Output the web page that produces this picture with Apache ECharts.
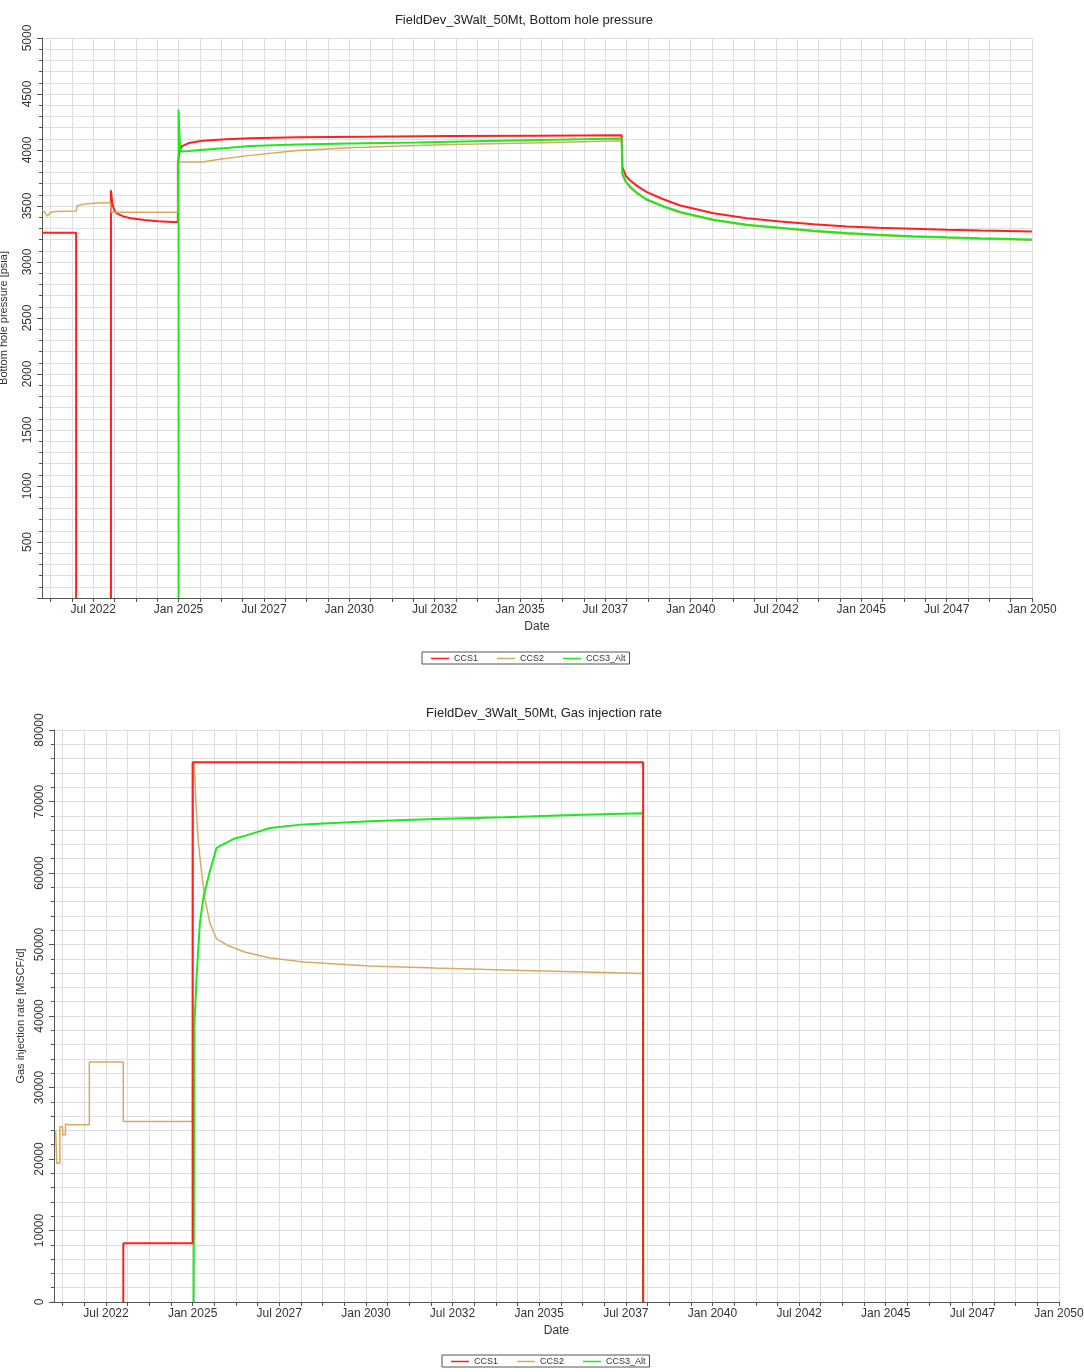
<!DOCTYPE html>
<html>
<head>
<meta charset="utf-8">
<title>FieldDev_3Walt_50Mt</title>
<script src="https://cdn.jsdelivr.net/npm/echarts@6.0.0/dist/echarts.min.js"></script>
<style>
  html, body { margin: 0; padding: 0; background: #fff; }
  #chart { width: 1084px; height: 1372px; }
</style>
</head>
<body>
<div id="chart"></div>
<script>
// x values are decimal years (2025.5 = Jul 2025)
const seriesNames = ['CCS1', 'CCS2', 'CCS3_Alt']
const dateLabels = ['Jul 2022', 'Jan 2025', 'Jul 2027', 'Jan 2030', 'Jul 2032', 'Jan 2035',
  'Jul 2037', 'Jan 2040', 'Jul 2042', 'Jan 2045', 'Jul 2047', 'Jan 2050']
const dateLabelYears = [2022.5, 2025, 2027.5, 2030, 2032.5, 2035, 2037.5, 2040, 2042.5, 2045, 2047.5, 2050]

// Bottom hole pressure [psia]  (stretches at 0 sit under the axis, so they are left out)
const bhpCCS1 = [
  [2021.0, 3262], [2022.0, 3262], [2022.0, 0], [2022.5, null], [2023.02, 0], [2023.02, 3640], [2023.06, 3520],
  [2023.12, 3462], [2023.2, 3432], [2023.4, 3405], [2023.6, 3390], [2024.0, 3375], [2024.4, 3364],
  [2024.98, 3355], [2024.98, 3880], [2025.03, 3990], [2025.1, 4035], [2025.3, 4062], [2025.7, 4082],
  [2026.4, 4095], [2027.1, 4105], [2028.5, 4113], [2030.5, 4119], [2033, 4124], [2035.5, 4128],
  [2037.98, 4131], [2038.0, 3850], [2038.1, 3770], [2038.23, 3728], [2038.45, 3675], [2038.72, 3624],
  [2039.2, 3560], [2039.7, 3505], [2040.67, 3436], [2041.65, 3391], [2042.63, 3361], [2043.6, 3337],
  [2044.58, 3317], [2045.5, 3305], [2046.52, 3296], [2047.5, 3288], [2048.48, 3281], [2050, 3272]
]
const bhpCCS2 = [
  [2021.0, 3462], [2021.08, 3445], [2021.16, 3410], [2021.25, 3442], [2021.4, 3452], [2022.0, 3456],
  [2022.03, 3500], [2022.2, 3515], [2022.6, 3526], [2023.0, 3532], [2023.03, 3444], [2024.98, 3444],
  [2024.99, 3893], [2025.7, 3893], [2026.2, 3918], [2027.1, 3952], [2028.5, 3995], [2030, 4020],
  [2031.5, 4035], [2033, 4048], [2034.5, 4058], [2036, 4068], [2037.98, 4082], [2038.0, 3775],
  [2038.1, 3710], [2038.23, 3660], [2038.45, 3605], [2038.72, 3550], [2039.2, 3490], [2039.7, 3438],
  [2040.67, 3370], [2041.65, 3325], [2042.63, 3298], [2043.6, 3272], [2044.58, 3250], [2045.5, 3236],
  [2046.52, 3224], [2047.5, 3214], [2048.48, 3206], [2050, 3194]
]
const bhpCCS3 = [
  [2025.0, 0], [2025.0, 4362], [2025.02, 4160], [2025.05, 4010], [2025.09, 3986],
  [2025.3, 3990], [2025.63, 4000], [2026.5, 4020], [2027.1, 4035], [2028.5, 4050], [2030, 4058],
  [2032, 4068], [2034, 4080], [2036, 4092], [2037.98, 4103], [2038.0, 3790], [2038.1, 3720],
  [2038.23, 3672], [2038.45, 3612], [2038.72, 3558], [2039.2, 3498], [2039.7, 3446], [2040.67, 3378],
  [2041.65, 3333], [2042.63, 3306], [2043.6, 3280], [2044.58, 3258], [2045.5, 3243], [2046.52, 3231],
  [2047.5, 3221], [2048.48, 3213], [2050, 3201]
]

// Gas injection rate [MSCF/d]
const rateCCS1 = [
  [2023.0, 0], [2023.0, 8200], [2025.0, 8200], [2025.0, 75500], [2038.0, 75500], [2038.0, 0]
]
const rateCCS2 = [
  [2021.05, 23900], [2021.08, 23900], [2021.08, 19400], [2021.17, 19400], [2021.17, 24500],
  [2021.25, 24500], [2021.25, 23400], [2021.33, 23400], [2021.33, 24900], [2021.42, 24800],
  [2022.02, 24800], [2022.02, 33550], [2023.0, 33550], [2023.0, 25250], [2025.0, 25250],
  [2025.02, 75500], [2025.05, 75000], [2025.1, 69500], [2025.16, 64500], [2025.25, 60500],
  [2025.35, 56500], [2025.5, 53000], [2025.69, 50800], [2026.0, 49900], [2026.5, 48950],
  [2027.2, 48150], [2028.2, 47550], [2030.1, 47000], [2032, 46700], [2034, 46450], [2036, 46200],
  [2037.99, 45950], [2038.0, 0]
]
const rateCCS3 = [
  [2025.03, 0], [2025.05, 38500], [2025.12, 46000], [2025.21, 53000], [2025.31, 56500],
  [2025.5, 60300], [2025.69, 63500], [2026.2, 64800], [2026.65, 65400], [2027.23, 66300],
  [2028.2, 66800], [2030.1, 67250], [2032, 67550], [2034, 67800], [2036, 68100], [2037.99, 68350],
  [2038.0, 0]
]

const lineColors = ['#ff1f1f', '#d8aa60', '#1ee81e']
const lineWidths = [2, 1.5, 2]
const gridColor = '#dedede'
const axisColor = '#555'
const font = 'Liberation Sans, Arial, sans-serif'

// vertical grid lines every 7.5 months, lined up with the date labels
const gridYears = []
for (let y = dateLabelYears[0] - 1.25; y <= 2050; y += 0.625) {
  gridYears.push(y)
}

function dateAxis(gridIndex) {
  return {
    type: 'value',
    gridIndex: gridIndex,
    min: 2021,
    max: 2050,
    name: 'Date',
    nameLocation: 'middle',
    nameGap: 23,
    nameTextStyle: { color: '#333', fontSize: 12, fontFamily: font },
    axisLine: { show: true, lineStyle: { color: axisColor } },
    axisTick: { show: true, length: 4, customValues: gridYears, lineStyle: { color: axisColor } },
    axisLabel: {
      customValues: dateLabelYears,
      margin: 6,
      color: '#333',
      fontSize: 12,
      fontFamily: font,
      formatter: function(v) {
        const i = dateLabelYears.indexOf(v)
        return i >= 0 ? dateLabels[i] : ''
      }
    },
    splitLine: { show: true, lineStyle: { color: gridColor, width: 1 } }
  }
}

function valueAxis(gridIndex, max, interval, name, nameGap, hideZero) {
  return {
    type: 'value',
    gridIndex: gridIndex,
    min: 0,
    max: max,
    interval: interval,
    name: name,
    nameLocation: 'middle',
    nameRotate: 90,
    nameGap: nameGap,
    nameTextStyle: { color: '#333', fontSize: 11, fontFamily: font },
    axisLine: { show: true, lineStyle: { color: axisColor } },
    axisTick: { show: true, length: 5, lineStyle: { color: axisColor } },
    minorTick: { show: true, splitNumber: 5, length: 3, lineStyle: { color: axisColor } },
    axisLabel: {
      rotate: 90,
      margin: 8,
      color: '#333',
      fontSize: 12,
      fontFamily: font,
      formatter: function(v) {
        return hideZero && v === 0 ? '' : String(v)
      }
    },
    splitLine: { show: true, lineStyle: { color: gridColor, width: 1 } },
    minorSplitLine: { show: true, lineStyle: { color: gridColor, width: 1 } }
  }
}

function lineSeries(idx, data, gridIndex) {
  return {
    name: seriesNames[idx],
    type: 'line',
    data: data,
    xAxisIndex: gridIndex,
    yAxisIndex: gridIndex,
    symbol: 'none',
    showSymbol: false,
    connectNulls: false,
    animation: false,
    lineStyle: { color: lineColors[idx], width: lineWidths[idx] },
    itemStyle: { color: lineColors[idx] }
  }
}

function legendBox(left, top) {
  return {
    left: left,
    top: top,
    data: seriesNames,
    icon: 'rect',
    itemWidth: 18,
    itemHeight: 1.5,
    itemGap: 19,
    padding: [2, 4, 1, 9],
    borderColor: '#555',
    borderWidth: 1,
    textStyle: { color: '#333', fontSize: 9, fontFamily: font }
  }
}

const chartDom = echarts.init(document.getElementById('chart'))

const option = {
  backgroundColor: '#fff',
  animation: false,
  title: [
    {
      text: 'FieldDev_3Walt_50Mt, Bottom hole pressure',
      left: 519,
      top: 9,
      textAlign: 'center',
      textStyle: { color: '#222', fontSize: 13, fontWeight: 'normal', fontFamily: font }
    },
    {
      text: 'FieldDev_3Walt_50Mt, Gas injection rate',
      left: 539,
      top: 702,
      textAlign: 'center',
      textStyle: { color: '#222', fontSize: 13, fontWeight: 'normal', fontFamily: font }
    }
  ],
  legend: [legendBox(422, 652), legendBox(442, 1355)],
  grid: [
    { left: 42, top: 38, width: 990, height: 560, containLabel: false, outerBoundsMode: 'none' },
    { left: 54, top: 730, width: 1005, height: 572, containLabel: false, outerBoundsMode: 'none' }
  ],
  xAxis: [dateAxis(0), dateAxis(1)],
  yAxis: [
    valueAxis(0, 5000, 500, 'Bottom hole pressure [psia]', 33, true),
    valueAxis(1, 80000, 10000, 'Gas injection rate [MSCF/d]', 27, false)
  ],
  series: [
    lineSeries(0, bhpCCS1, 0),
    lineSeries(1, bhpCCS2, 0),
    lineSeries(2, bhpCCS3, 0),
    // red drawn last in the lower chart so it stays on top
    lineSeries(1, rateCCS2, 1),
    lineSeries(2, rateCCS3, 1),
    lineSeries(0, rateCCS1, 1)
  ]
}

chartDom.setOption(option)
</script>
</body>
</html>
